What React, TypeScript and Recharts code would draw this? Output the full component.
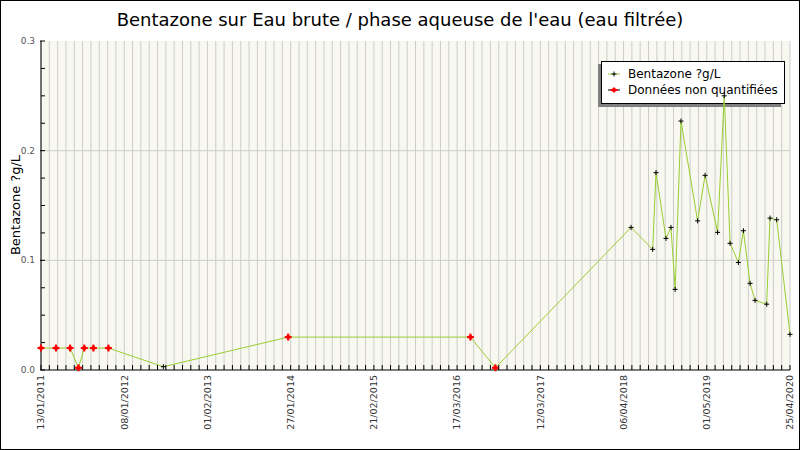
import React from 'react';
import { LineChart, Line, XAxis, YAxis, CartesianGrid, Customized } from 'recharts';

// x positions are in axis units (10 units between date labels)
const positions = [0, 1.8, 3.5, 4.5, 5.2, 6.3, 8.1, 14.7, 29.7, 51.6, 54.6, 70.9, 73.5, 73.9, 75.1, 75.7, 76.2, 76.9, 78.9, 79.8, 81.3, 82.1, 82.8, 83.8, 84.4, 85.2, 85.8, 87.2, 87.6, 88.4, 90];
const values = [0.02, 0.02, 0.02, 0.002, 0.02, 0.02, 0.02, 0.003, 0.03, 0.03, 0.002, 0.13, 0.11, 0.18, 0.12, 0.13, 0.0735, 0.227, 0.136, 0.1775, 0.1255, 0.25, 0.1155, 0.098, 0.127, 0.079, 0.0635, 0.06, 0.1385, 0.137, 0.0325];
const nonQuantified = [true, true, true, true, true, true, true, false, true, true, true, false, false, false, false, false, false, false, false, false, false, false, false, false, false, false, false, false, false, false, false];

const xLabels = ['13/01/2011', '08/01/2012', '01/02/2013', '27/01/2014', '21/02/2015', '17/03/2016', '12/03/2017', '06/04/2018', '01/05/2019', '25/04/2020'];
const xTicks = Array.from({ length: 91 }, (_, i) => i);
const yTicks = [0, 0.025, 0.05, 0.075, 0.1, 0.125, 0.15, 0.175, 0.2, 0.225, 0.25, 0.275, 0.3];
const yLabels = ['0.0', '0.1', '0.2', '0.3'];

const title = "Bentazone sur Eau brute / phase aqueuse de l'eau (eau filtrée)";
const yTitle = 'Bentazone ?g/L';
const seriesNames = ['Bentazone ?g/L', 'Données non quantifiées'];

const data = positions.map((x, i) => ({
  x,
  v: values[i],
  nq: nonQuantified[i] ? values[i] : null,
}));

const FONT = '"DejaVu Sans", sans-serif';
const GREEN = '#9acd32';

const XTick = (props: any) => {
  const { x, y, payload } = props;
  const idx = payload.value;
  const isMajor = idx % 10 === 0;
  return (
    <g>
      <line x1={x} y1={y} x2={x} y2={y - 5} stroke="#000" strokeWidth={1} />
      {isMajor && (
        <text
          x={x}
          y={y + 5}
          transform={`rotate(-90, ${x}, ${y + 5})`}
          textAnchor="end"
          dy="0.35em"
          fontSize={9.5}
          fontFamily={FONT}
          fill="#333"
        >
          {xLabels[idx / 10]}
        </text>
      )}
    </g>
  );
};

const YTick = (props: any) => {
  const { x, y, index } = props;
  const isMajor = index % 4 === 0;
  return (
    <g>
      <line x1={x} y1={y} x2={x + 4} y2={y} stroke="#000" strokeWidth={1} />
      {isMajor && <line x1={x - 1} y1={y} x2={x} y2={y} stroke="#000" />}
      {isMajor && (
        <text x={x - 6} y={y} dy="0.35em" textAnchor="end" fontSize={9} fontFamily={FONT} fill="#555">
          {yLabels[index / 4]}
        </text>
      )}
    </g>
  );
};

const PlusDot = (props: any) => {
  const { cx, cy } = props;
  if (cx == null || cy == null) return null;
  return (
    <g>
      <line x1={cx - 2.5} y1={cy} x2={cx + 2.5} y2={cy} stroke="#000" strokeWidth={1} />
      <line x1={cx} y1={cy - 2.5} x2={cx} y2={cy + 2.5} stroke="#000" strokeWidth={1} />
    </g>
  );
};

const RedDot = (props: any) => {
  const { cx, cy, value } = props;
  if (cx == null || cy == null || value == null) return null;
  return (
    <g>
      <polygon points={`${cx},${cy - 3} ${cx + 3},${cy} ${cx},${cy + 3} ${cx - 3},${cy}`} fill="#ff0000" />
      <line x1={cx - 3.5} y1={cy} x2={cx + 3.5} y2={cy} stroke="#ff0000" strokeWidth={2} />
      <line x1={cx} y1={cy - 3.5} x2={cx} y2={cy + 3.5} stroke="#ff0000" strokeWidth={2} />
    </g>
  );
};

const Decorations = () => (
  <g>
    <text x={400} y={26} textAnchor="middle" fontSize={18} fontFamily={FONT} fill="#000">
      {title}
    </text>
    <text
      x={15}
      y={205}
      transform="rotate(-90, 15, 205)"
      textAnchor="middle"
      dy="0.35em"
      fontSize={13}
      fontFamily={FONT}
      fill="#000"
    >
      {yTitle}
    </text>
    <rect x={598} y={64} width={183} height={43} fill="#808080" />
    <rect x={601.5} y={61.5} width={183} height={42} fill="#ffffff" stroke="#000" strokeWidth={1} />
    <line x1={608} y1={74} x2={620} y2={74} stroke={GREEN} strokeWidth={1} />
    <line x1={611.5} y1={74} x2={616.5} y2={74} stroke="#000" strokeWidth={1} />
    <line x1={614} y1={71.5} x2={614} y2={76.5} stroke="#000" strokeWidth={1} />
    <text x={628} y={78} fontSize={12} fontFamily={FONT} fill="#000">
      {seriesNames[0]}
    </text>
    <line x1={608} y1={90} x2={620} y2={90} stroke="#000" strokeWidth={1} />
    <polygon points="614,87 617,90 614,93 611,90" fill="#ff0000" />
    <line x1={610.5} y1={90} x2={617.5} y2={90} stroke="#ff0000" strokeWidth={2} />
    <text x={628} y={94} fontSize={12} fontFamily={FONT} fill="#000">
      {seriesNames[1]}
    </text>
  </g>
);

export default function App() {
  return (
    <div style={{ position: 'absolute', left: 0, top: 0, width: 800, height: 450, background: '#fff' }}>
      <LineChart width={800} height={450} data={data} margin={{ top: 41, right: 10, bottom: 0, left: 0 }}>
        <CartesianGrid
          fill="#f8f8f0"
          stroke="#cccccc"
          verticalValues={xTicks}
          horizontalValues={[0.1, 0.2]}
        />
        <XAxis
          type="number"
          dataKey="x"
          domain={[0, 90]}
          ticks={xTicks}
          interval={0}
          height={80}
          tickSize={0}
          tickMargin={0}
          tickLine={false}
          axisLine={{ stroke: '#000' }}
          tick={<XTick />}
        />
        <YAxis
          type="number"
          domain={[0, 0.3]}
          ticks={yTicks}
          interval={0}
          width={41}
          tickSize={0}
          tickMargin={0}
          tickLine={false}
          axisLine={{ stroke: '#000' }}
          tick={<YTick />}
        />
        <Customized component={Decorations} />
        <Line
          type="linear"
          dataKey="v"
          stroke={GREEN}
          strokeWidth={1}
          dot={<PlusDot />}
          activeDot={false}
          isAnimationActive={false}
        />
        <Line
          type="linear"
          dataKey="nq"
          stroke="none"
          dot={<RedDot />}
          activeDot={false}
          isAnimationActive={false}
        />
      </LineChart>
      <div
        style={{
          position: 'absolute',
          left: 0,
          top: 0,
          width: 800,
          height: 450,
          boxSizing: 'border-box',
          border: '1px solid #000',
          pointerEvents: 'none',
        }}
      />
    </div>
  );
}
